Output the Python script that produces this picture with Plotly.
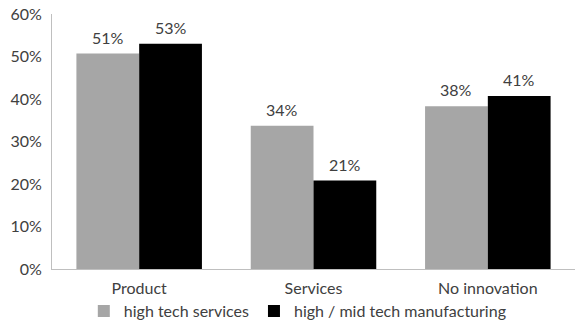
import plotly.graph_objects as go

categories = ["Product", "Services", "No innovation"]
high_tech_services = [0.507, 0.337, 0.383]
high_mid_manufacturing = [0.530, 0.208, 0.407]
series = [("high tech services", high_tech_services, "#A6A6A6"),
          ("high / mid tech manufacturing", high_mid_manufacturing, "#000000")]
tick_vals = [0, 0.1, 0.2, 0.3, 0.4, 0.5, 0.6]
tick_text = ["0%", "10%", "20%", "30%", "40%", "50%", "60%"]

font = dict(family="Lato, 'Open Sans', sans-serif", size=16, color="#404040")

fig = go.Figure()
for name, vals, color in series:
    fig.add_trace(go.Bar(x=categories, y=vals, name=name,
                         marker=dict(color=color, line=dict(width=0))))

# value labels above bars
bargap = 0.28
plot_w = 575 - 52 - 0
cat_w = plot_w / len(categories)
bar_w = cat_w * (1 - bargap) / 2
for i, (name, vals, color) in enumerate(series):
    shift = (i - 0.5) * bar_w
    for c, v in zip(categories, vals):
        fig.add_annotation(x=c, y=v, text=f"{round(v * 100)}%", showarrow=False,
                           xshift=shift, yshift=5, yanchor="bottom", font=font)

fig.update_layout(
    width=575, height=328,
    margin=dict(l=52, r=0, t=14, b=57),
    paper_bgcolor="white", plot_bgcolor="white",
    font=font,
    barmode="group", bargap=bargap, bargroupgap=0,
    showlegend=True,
    legend=dict(orientation="h", x=0.47, xanchor="center", y=-0.1, yanchor="top",
                font=font, itemwidth=30, traceorder="normal"),
    xaxis=dict(showline=True, linecolor="#BFBFBF", linewidth=1, ticks="",
               showgrid=False, tickfont=font, ticklabelstandoff=5),
    yaxis=dict(range=[0, 0.6], tickvals=tick_vals, ticktext=tick_text,
               showline=True, linecolor="#BFBFBF", linewidth=1, showgrid=False,
               zeroline=False, ticks="", tickfont=font, ticklabelstandoff=6),
)

fig.write_html("out.html")
